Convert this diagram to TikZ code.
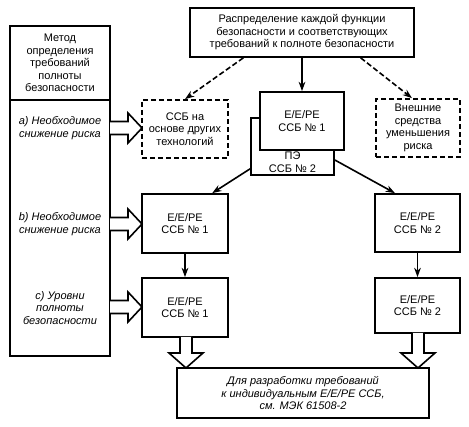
\documentclass[tikz,border=0pt]{standalone}
\usepackage{fontspec}
\setmainfont{Liberation Sans}
\usetikzlibrary{calc,arrows.meta}
\newcommand\hollowR[3]{% x1 x2 y : shaft start, tip, centre
  \draw[hol] (#1,#3-6.5) -- (#2-14,#3-6.5) -- (#2-14,#3-15) -- (#2,#3) -- (#2-14,#3+15) -- (#2-14,#3+6.5) -- (#1,#3+6.5);}
\newcommand\hollowD[3]{% x y1 y2
  \draw[hol] (#1-6,#2) -- (#1-6,#3-15) -- (#1-17,#3-15) -- (#1,#3) -- (#1+17,#3-15) -- (#1+6,#3-15) -- (#1+6,#2);}
\begin{document}
\begin{tikzpicture}[x=0.75pt,y=-0.75pt,
  every node/.style={font=\fontsize{8.25}{9.4}\selectfont, align=center, inner sep=0pt},
  box/.style={draw, line width=1.3pt, fill=white},
  dbox/.style={draw, line width=1.3pt, dash pattern=on 4pt off 2pt, fill=white},
  arr/.style={line width=1.2pt, -{Stealth[length=7pt,width=5pt]}},
  darr/.style={arr, dash pattern=on 4pt off 2pt},
  hol/.style={line width=1.2pt, fill=white, line join=miter}]
\useasboundingbox (0,0) rectangle (469,427);
% left column
\node[box, minimum width=75pt, minimum height=55.5pt] (L1) at (60,63) {Метод\\определения\\требований\\полноты\\безопасности};
\node[box, minimum width=75pt, minimum height=192pt] (L2) at (60,228) {};
\node[font=\fontsize{8.25}{9.4}\selectfont\itshape] (la) at (60,128) {a) Необходимое\\снижение риска};
\node[font=\fontsize{8.25}{9.4}\selectfont\itshape] (lb) at (60,224) {b) Необходимое\\снижение риска};
\node[font=\fontsize{8.25}{9.4}\selectfont\itshape] (lc) at (60,308) {c) Уровни\\полноты\\безопасности};
% top
\node[box, minimum width=168pt, minimum height=36.75pt] (T) at (302,32.5) {Распределение каждой функции\\безопасности и соответствующих\\требований к полноте безопасности};
\node[dbox, minimum width=64.5pt, minimum height=43.5pt] (S1) at (185,129) {ССБ на\\основе других\\технологий};
\node[box, minimum width=62.25pt, minimum height=42.75pt] (P2) at (292.5,146.5) {};
\node (p2t) at (292.5,162) {ПЭ\\ССБ № 2};
\node[box, minimum width=63pt, minimum height=43.5pt] (C1) at (302,121) {E/E/PE\\ССБ № 1};
\node[dbox, minimum width=63pt, minimum height=43.5pt] (X) at (418,128) {Внешние\\средства\\уменьшения\\риска};
% rows
\node[box, minimum width=64.5pt, minimum height=44.25pt] (R2L) at (185,223.5) {E/E/PE\\ССБ № 1};
\node[box, minimum width=63.75pt, minimum height=43.5pt] (R2R) at (417.5,223) {E/E/PE\\ССБ № 2};
\node[box, minimum width=64.5pt, minimum height=44.25pt] (R3L) at (185,307.5) {E/E/PE\\ССБ № 1};
\node[box, minimum width=63.75pt, minimum height=41.25pt] (R3R) at (417.5,305.5) {E/E/PE\\ССБ № 2};
\node[box, minimum width=189pt, minimum height=37.5pt, font=\fontsize{8.25}{9.4}\selectfont\itshape] (B) at (303,393) {Для разработки требований\\к индивидуальным E/E/PE ССБ,\\см. МЭК 61508-2};
% connectors
\draw[darr] ($(T.south west)!0.24!(T.south east)$) -- (S1.north);
\draw[arr] (T.south) -- (C1.north);
\draw[darr] ($(T.south west)!0.76!(T.south east)$) -- ($(X.north west)!0.43!(X.north east)$);
\draw[arr] ($(P2.south west)!0.12!(P2.north west)$) -- ($(R2L.north west)!0.81!(R2L.north east)$);
\draw[arr] ($(P2.south east)!0.27!(P2.north east)$) -- ($(R2R.north west)!0.24!(R2R.north east)$);
\draw[arr] (R2L.south) -- (R3L.north);
\draw[arr] (R2R.south) -- (R3R.north);
% hollow arrows
\hollowR{110}{142}{128}
\hollowR{110}{142}{224}
\hollowR{110}{142}{307}
\hollowD{186}{337}{368}
\hollowD{418}{333}{368}
\end{tikzpicture}
\end{document}
